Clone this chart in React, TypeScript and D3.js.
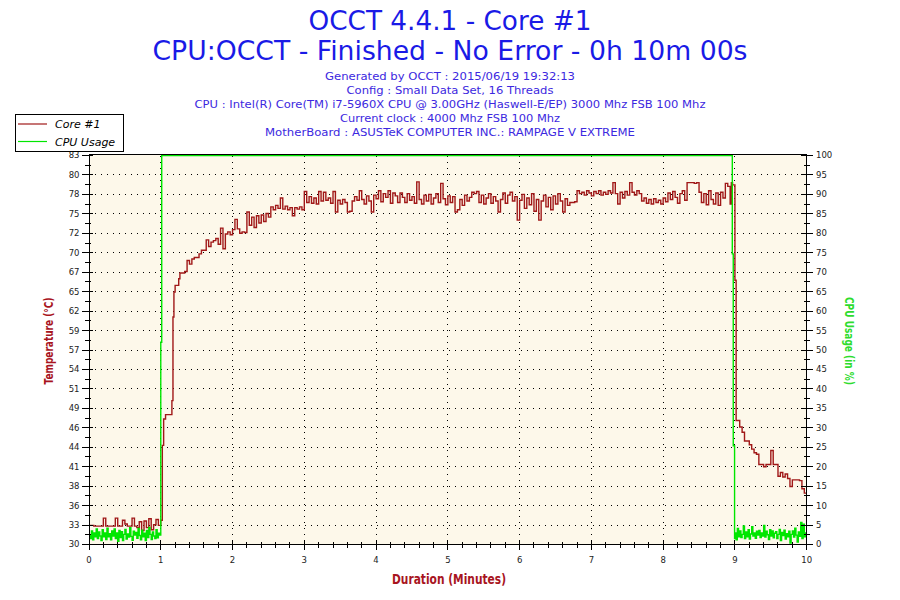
import React from 'react';
import * as d3 from 'd3';

const titleLines = ['OCCT 4.4.1 - Core #1', 'CPU:OCCT - Finished - No Error - 0h 10m 00s'];
const titleWidths = [283, 595];
const infoLines = [
  'Generated by OCCT : 2015/06/19 19:32:13',
  'Config : Small Data Set, 16 Threads',
  'CPU : Intel(R) Core(TM) i7-5960X CPU @ 3.00GHz (Haswell-E/EP) 3000 Mhz FSB 100 Mhz',
  'Current clock : 4000 Mhz FSB 100 Mhz',
  'MotherBoard : ASUSTeK COMPUTER INC.: RAMPAGE V EXTREME',
];
const infoWidths = [250, 207, 511, 220, 370];

const tempTickLabels = ['30', '33', '36', '38', '41', '44', '46', '49', '51', '54', '57', '59', '62', '65', '67', '70', '72', '75', '78', '80', '83'];
const tempDomain = [30, 83];
const cpuTickLabels = ['0', '5', '10', '15', '20', '25', '30', '35', '40', '45', '50', '55', '60', '65', '70', '75', '80', '85', '90', '95', '100'];
const minuteTicks = [0, 1, 2, 3, 4, 5, 6, 7, 8, 9, 10];

// [seconds, °C]
const coreTemp: [number, number][] = [
  [0, 32.6], [2, 32.6], [4, 32.5], [6, 32.5], [8, 32.5], [10, 32.5], [12, 33.6], [14, 32.5], [16, 32.5], [18, 32.5],
  [20, 32.5], [22, 33.6], [24, 32.5], [26, 32.5], [28, 33.3], [30, 32.8], [32, 32.5], [34, 32.5], [36, 33.6], [38, 32.5],
  [40, 32.3], [42, 33.1], [44, 31.9], [46, 33.2], [48, 32.3], [50, 33.5], [52, 32.0], [54, 32.7], [56, 33.4], [58, 32.6],
  [60, 33.3], [61.3, 43.5], [62.4, 47.1], [64, 47.7], [66, 47.7], [68, 47.7], [69.3, 49.6], [70.2, 61.0], [71, 64.4], [72, 65.3],
  [74, 65.3], [75, 66.2], [76, 67.0], [78, 67.0], [80, 67.2], [82, 68.7], [84, 68.2], [86, 68.9], [88, 69.1], [90, 69.1],
  [92, 69.6], [94, 70.1], [96, 70.1], [98, 71.5], [100, 70.6], [102, 71.2], [104, 71.4], [106, 71.7], [108, 70.9], [110, 73.1],
  [112, 70.3], [114, 72.3], [116, 72.6], [118, 72.2], [120, 72.9], [122, 74.3], [124, 73.0], [126, 72.4], [128, 72.6], [130, 72.5],
  [132, 75.3], [134, 73.5], [136, 74.6], [138, 73.2], [140, 74.8], [142, 73.8], [144, 74.9], [146, 74.0], [148, 75.1], [150, 74.6],
  [152, 76.0], [154, 75.6], [156, 76.2], [158, 75.8], [160, 77.2], [162, 75.7], [164, 76.1], [166, 75.6], [168, 75.9], [170, 74.8],
  [172, 75.9], [174, 75.7], [176, 76.0], [178, 75.6], [180, 78.1], [182, 76.6], [184, 77.4], [186, 76.5], [188, 77.2], [190, 76.4],
  [192, 78.1], [194, 76.8], [196, 78.0], [198, 76.9], [200, 77.2], [202, 76.5], [204, 78.1], [206, 75.3], [208, 76.9], [210, 76.4],
  [212, 77.0], [214, 76.6], [216, 75.3], [218, 75.4], [220, 76.8], [222, 77.4], [224, 76.9], [226, 78.2], [228, 77.0], [230, 76.4],
  [232, 77.5], [234, 76.8], [236, 75.3], [238, 77.6], [240, 77.1], [242, 78.2], [244, 76.7], [246, 77.8], [248, 77.3], [250, 78.2],
  [252, 76.5], [254, 77.9], [256, 77.5], [258, 76.6], [260, 77.9], [262, 77.3], [264, 76.6], [266, 77.8], [268, 76.9], [270, 77.4],
  [272, 76.5], [274, 79.4], [276, 77.0], [278, 76.4], [280, 77.6], [282, 76.8], [284, 77.7], [286, 76.4], [288, 77.2], [290, 77.8],
  [292, 76.6], [294, 79.2], [296, 77.1], [298, 76.3], [300, 77.5], [302, 76.6], [304, 77.4], [306, 75.3], [308, 75.6], [310, 77.0],
  [312, 76.2], [314, 77.6], [316, 76.8], [318, 77.3], [320, 78.0], [322, 77.8], [324, 78.1], [326, 76.6], [328, 77.6], [330, 76.4],
  [332, 77.2], [334, 77.8], [336, 76.5], [338, 77.4], [340, 76.8], [342, 75.3], [344, 77.0], [346, 77.9], [348, 76.5], [350, 77.6],
  [352, 78.0], [354, 76.8], [356, 77.4], [358, 74.2], [360, 76.9], [362, 77.7], [364, 75.8], [366, 77.2], [368, 76.3], [370, 77.8],
  [372, 75.4], [374, 77.0], [376, 74.2], [378, 76.8], [380, 77.6], [382, 76.0], [384, 77.3], [386, 75.6], [388, 77.5], [390, 76.4],
  [392, 77.8], [394, 76.8], [396, 75.3], [398, 77.1], [400, 76.2], [402, 76.6], [404, 76.6], [406, 76.7], [408, 78.2], [410, 77.8],
  [412, 78.0], [414, 77.6], [416, 78.2], [418, 77.9], [420, 77.5], [422, 78.1], [424, 77.8], [426, 78.2], [428, 77.6], [430, 78.0],
  [432, 77.7], [434, 78.2], [436, 77.9], [438, 79.3], [440, 77.8], [442, 76.4], [444, 78.0], [446, 77.2], [448, 78.1], [450, 77.6],
  [452, 79.3], [454, 78.0], [456, 77.6], [458, 78.2], [460, 77.8], [462, 76.8], [464, 77.2], [466, 76.5], [468, 77.0], [470, 76.4],
  [472, 77.1], [474, 76.6], [476, 76.9], [478, 76.4], [480, 77.2], [482, 76.7], [484, 77.9], [486, 77.0], [488, 78.1], [490, 77.3],
  [492, 76.5], [494, 77.8], [496, 78.2], [498, 76.9], [500, 79.3], [502, 79.3], [504, 79.3], [506, 79.2], [508, 79.3], [510, 78.0],
  [512, 76.6], [514, 77.8], [516, 76.3], [518, 78.2], [520, 77.0], [522, 76.4], [524, 77.9], [526, 76.2], [528, 78.0], [530, 77.2],
  [532, 79.2], [534, 78.8], [536, 76.4], [537, 79.3], [538, 79.0], [540, 66.0], [541, 46.9], [544, 46.0], [546, 45.3], [548, 44.1],
  [550, 44.1], [552, 43.6], [554, 43.0], [556, 42.5], [558, 42.3], [560, 40.9], [562, 40.9], [564, 40.6], [566, 40.9], [568, 40.9],
  [570, 42.8], [572, 40.9], [574, 40.9], [576, 39.3], [578, 39.8], [580, 39.2], [582, 39.6], [584, 39.0], [586, 37.9], [588, 38.8],
  [590, 38.8], [592, 38.8], [594, 38.7], [596, 37.6], [598, 37.0], [600, 37.4],
];

// 1-second CPU usage samples (%), starting at 0 s
const cpuIdleBefore = [
  2.5, 1.5, 3.5, 1.2, 3.0, 2.0, 4.0, 1.5, 3.2, 2.2, 1.0, 3.8, 2.0, 3.0, 1.3, 4.2, 2.0, 2.8, 1.2, 3.5,
  2.2, 4.0, 1.5, 3.0, 0.8, 3.6, 1.8, 3.3, 1.0, 2.6, 3.9, 1.4, 2.7, 1.9, 4.3, 2.1, 1.1, 3.4, 2.4, 3.1,
  1.6, 4.1, 2.3, 1.2, 3.7, 2.0, 2.9, 1.0, 3.6, 1.8, 4.4, 2.6, 1.3, 3.2, 2.2, 1.5, 3.8, 1.7, 2.9, 2.4,
];
// [seconds, %] during the load
const cpuLoadSteps: [number, number][] = [[60, 52], [60.8, 100], [537.8, 74.7], [538.6, 25.4], [539.7, 1.5]];
// 1-second CPU usage samples (%), starting at 540 s
const cpuIdleAfter = [
  3.0, 1.2, 4.1, 2.0, 3.5, 1.8, 2.6, 4.8, 1.5, 3.2, 2.0, 3.8, 1.4, 2.7, 4.6, 2.2, 3.0, 1.6, 3.4, 2.4,
  3.6, 1.8, 3.0, 2.2, 4.9, 1.9, 3.4, 2.5, 1.3, 3.8, 2.2, 3.5, 1.7, 2.9, 3.3, 1.5, 2.6, 3.9, 1.0, 3.1,
  2.3, 3.7, 1.4, 2.8, 2.0, 3.4, 0.4, 2.6, 3.5, 1.9, 4.2, 2.4, 0.6, 3.2, 2.1, 5.7, 1.5, 5.2, 2.0, 3.0, 2.4,
];

const L = 89, R = 806.7, T = 155.5, B = 544.5;
const RED = '#A01818';
const GREEN = '#00E600';
const FONT = 'DejaVu Sans, Verdana, sans-serif';

export default function App() {
  const x = d3.scaleLinear().domain([0, 10]).range([L, R]);
  const yT = d3.scaleLinear().domain(tempDomain).range([B, T]);
  const yC = d3.scaleLinear().domain([0, 100]).range([B, T]);
  const nT = tempTickLabels.length - 1;
  const tempTickValues = tempTickLabels.map((_, i) => tempDomain[0] + (i * (tempDomain[1] - tempDomain[0])) / nT);
  const cpuTickValues = cpuTickLabels.map(Number);

  const cpuPoints: [number, number][] = [
    ...cpuIdleBefore.map((v, i) => [i, v] as [number, number]),
    ...cpuLoadSteps,
    ...cpuIdleAfter.map((v, i) => [540 + i, v] as [number, number]),
  ];

  const tempLine = d3.line<[number, number]>()
    .x((d) => x(d[0] / 60))
    .y((d) => yT(d[1]))
    .curve(d3.curveStepAfter);
  const cpuLine = d3.line<[number, number]>()
    .x((d) => x(d[0] / 60))
    .y((d) => yC(d[1]))
    .curve(d3.curveStepAfter);

  const minorX: number[] = [];
  minuteTicks.slice(0, -1).forEach((m) => {
    [0.2, 0.4, 0.6, 0.8].forEach((f) => minorX.push(m + f));
  });
  const leftMinor = tempTickValues.slice(0, -1).map((v, i) => (v + tempTickValues[i + 1]) / 2);
  const rightMinor = cpuTickValues.slice(0, -1).map((v, i) => (v + cpuTickValues[i + 1]) / 2);

  return (
    <svg width={900} height={600} style={{ position: 'absolute', left: 0, top: 0, background: '#fff' }} fontFamily={FONT}>
      <defs>
        <clipPath id="plotClip">
          <rect x={L} y={T - 2} width={R - L} height={B - T + 2} />
        </clipPath>
      </defs>
      <rect x={0} y={0} width={900} height={600} fill="#fff" />
      {titleLines.map((t, i) => (
        <text key={t} x={450} y={30 + i * 30} textAnchor="middle" fontSize={26} fill="#1A1AE6"
          textLength={titleWidths[i]} lengthAdjust="spacingAndGlyphs">{t}</text>
      ))}
      {infoLines.map((t, i) => (
        <text key={t} x={450} y={80 + i * 14} textAnchor="middle" fontSize={10.5} fill="#3C28E0"
          textLength={infoWidths[i]} lengthAdjust="spacingAndGlyphs">{t}</text>
      ))}

      <rect x={L} y={T - 1.5} width={R - L} height={B - T + 1.5} fill="#FDF8EA" />

      <g stroke="#000" strokeWidth={1} strokeDasharray="1 5" shapeRendering="crispEdges">
        {tempTickValues.slice(1, -1).map((v) => (
          <line key={'h' + v} x1={L + 6} x2={R} y1={yT(v)} y2={yT(v)} />
        ))}
        {minuteTicks.slice(1, -1).map((m) => (
          <line key={'v' + m} x1={x(m)} x2={x(m)} y1={T} y2={B} />
        ))}
      </g>

      <g clipPath="url(#plotClip)" fill="none" strokeWidth={1.4}>
        <path d={tempLine(coreTemp) || ''} stroke={RED} />
        <path d={cpuLine(cpuPoints) || ''} stroke={GREEN} />
      </g>

      <g stroke="#000" strokeWidth={1} shapeRendering="crispEdges">
        <line x1={L} x2={R} y1={T - 1.5} y2={T - 1.5} />
        <line x1={L} x2={R} y1={B} y2={B} />
        <line x1={L} x2={L} y1={T - 1.5} y2={B} />
        <line x1={R} x2={R} y1={T - 1.5} y2={B} />
        {tempTickValues.map((v) => (
          <line key={'lt' + v} x1={L - 7} x2={L + 4} y1={yT(v)} y2={yT(v)} />
        ))}
        {leftMinor.map((v) => (
          <line key={'lm' + v} x1={L - 4} x2={L + 2} y1={yT(v)} y2={yT(v)} />
        ))}
        {cpuTickValues.map((v) => (
          <line key={'rt' + v} x1={R - 6} x2={R + 6} y1={yC(v)} y2={yC(v)} />
        ))}
        {rightMinor.map((v) => (
          <line key={'rm' + v} x1={R - 3} x2={R + 3} y1={yC(v)} y2={yC(v)} />
        ))}
        {minuteTicks.map((m) => (
          <line key={'bt' + m} x1={x(m)} x2={x(m)} y1={B - 5} y2={B + 5} />
        ))}
        {minorX.map((m) => (
          <line key={'bm' + m} x1={x(m)} x2={x(m)} y1={B - 3} y2={B + 3} />
        ))}
      </g>

      <g fontSize={8.5} fill="#222">
        {tempTickLabels.map((t, i) => (
          <text key={'tl' + i} x={79.5} y={yT(tempTickValues[i])} dy="0.35em" textAnchor="end">{t}</text>
        ))}
        {cpuTickLabels.map((t, i) => (
          <text key={'cl' + i} x={816} y={yC(cpuTickValues[i])} dy="0.35em" textAnchor="start">{t}</text>
        ))}
        {minuteTicks.map((m) => (
          <text key={'ml' + m} x={x(m)} y={563} textAnchor="middle">{m}</text>
        ))}
      </g>

      <text x={449} y={584} textAnchor="middle" fontSize={14} fontWeight="bold" fill="#A8141E"
        textLength={114} lengthAdjust="spacingAndGlyphs">Duration (Minutes)</text>
      <text transform="translate(53,341) rotate(-90)" textAnchor="middle" fontSize={11.5} fontWeight="bold" fill="#A8141E"
        textLength={87} lengthAdjust="spacingAndGlyphs">Temperature (°C)</text>
      <text transform="translate(845,341) rotate(90)" textAnchor="middle" fontSize={11.5} fontWeight="bold" fill="#2EDC2E"
        textLength={88} lengthAdjust="spacingAndGlyphs">CPU Usage (in %)</text>

      <g>
        <rect x={15.5} y={114.5} width={108} height={37} fill="#fff" stroke="#000" strokeWidth={1} />
        <line x1={18} x2={47} y1={124} y2={124} stroke={RED} strokeWidth={1.2} />
        <line x1={18} x2={47} y1={141.5} y2={141.5} stroke={GREEN} strokeWidth={1.2} />
        <text x={55} y={128} fontSize={11} fontStyle="italic" fill="#000">Core #1</text>
        <text x={55} y={145.5} fontSize={11} fontStyle="italic" fill="#000">CPU Usage</text>
      </g>
    </svg>
  );
}
